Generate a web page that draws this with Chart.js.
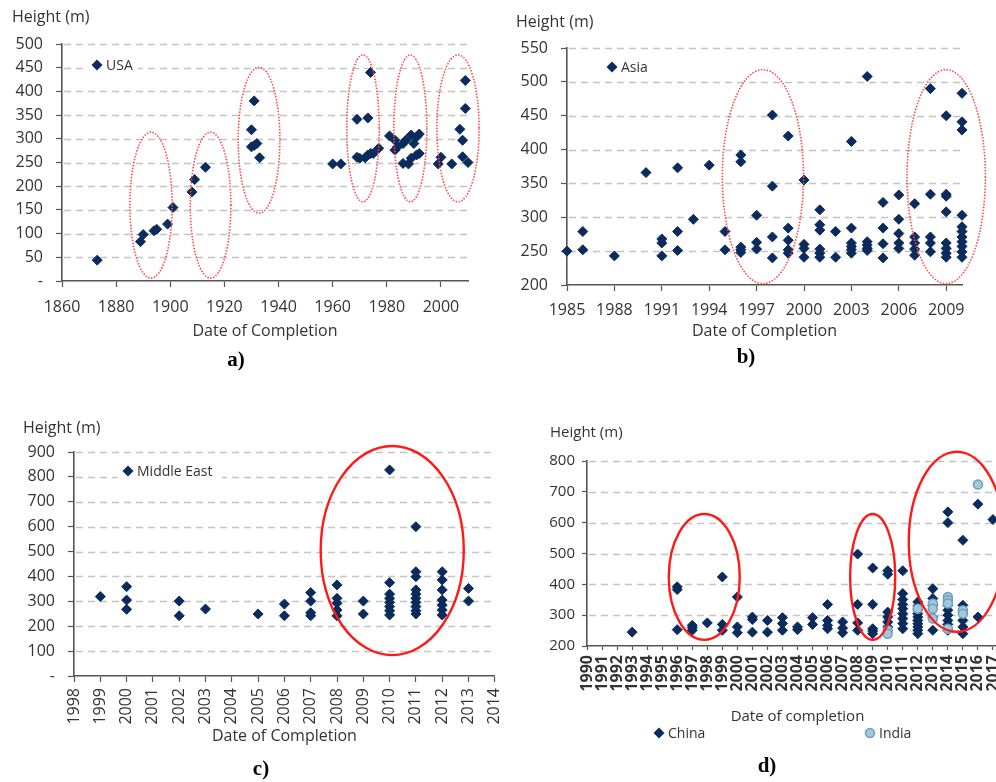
<!DOCTYPE html>
<html>
<head>
<meta charset="utf-8">
<script src="https://cdn.jsdelivr.net/npm/chart.js@4.4.1/dist/chart.umd.min.js"></script>
<style>
  body { margin: 0; width: 996px; height: 782px; overflow: hidden; background: #fff; position: relative; }
  canvas { position: absolute; }
  .cap { position: absolute; font: bold 21px "Liberation Serif", serif; color: #000; transform: translate(-50%, -50%); }
</style>
</head>
<body>
<canvas id="ca" width="490" height="350" style="left:0;top:0"></canvas>
<canvas id="cb" width="506" height="350" style="left:490px;top:0"></canvas>
<canvas id="cc" width="520" height="392" style="left:0;top:390px"></canvas>
<canvas id="cd" width="520" height="382" style="left:520px;top:400px"></canvas>
<div class="cap" style="left:236px;top:359px">a)</div>
<div class="cap" style="left:746px;top:356px">b)</div>
<div class="cap" style="left:261px;top:768px">c)</div>
<div class="cap" style="left:767px;top:765px">d)</div>
<script>
// a) USA
const usaYears = [
  1873,
  1889, 1890, 1894, 1895, 1899, 1901,
  1908, 1909, 1913,
  1930, 1930, 1931, 1931, 1932, 1933,
  1960, 1963,
  1969, 1969, 1970, 1972, 1973, 1973, 1974, 1974, 1975, 1977,
  1981, 1983, 1983, 1984, 1986, 1986, 1987, 1988, 1989, 1989, 1990, 1991, 1991, 1992, 1992,
  1999, 2000, 2004, 2007, 2008, 2008, 2009, 2009, 2010
];
const usaHeights = [
  44,
  83, 98, 106, 109, 120, 155,
  188, 214, 240,
  319, 283, 380, 286, 290, 260,
  247, 247,
  341, 261, 259, 260, 344, 266, 440, 269, 269, 280,
  306, 297, 276, 283, 290, 248, 297, 247, 308, 259, 290, 304, 266, 310, 269,
  247, 261, 247, 320, 297, 262, 364, 423, 250
];
const usaYearTicks = [1860, 1880, 1900, 1920, 1940, 1960, 1980, 2000];
const usaHeightTicks = [0, 50, 100, 150, 200, 250, 300, 350, 400, 450, 500];

// b) Asia
const asiaYears = [
  1985, 1986, 1986, 1988, 1990, 1991, 1991, 1991, 1992, 1992, 1992, 1993, 1994, 1995, 1995,
  1996, 1996, 1996, 1996, 1996,
  1997, 1997, 1997,
  1998, 1998, 1998, 1998,
  1999, 1999, 1999, 1999, 1999,
  2000, 2000, 2000, 2000,
  2001, 2001, 2001, 2001, 2001, 2001,
  2002, 2002,
  2003, 2003, 2003, 2003, 2003, 2003,
  2004, 2004, 2004, 2004, 2004,
  2005, 2005, 2005, 2005,
  2006, 2006, 2006, 2006, 2006,
  2007, 2007, 2007, 2007, 2007,
  2008, 2008, 2008, 2008, 2008,
  2009, 2009, 2009, 2009, 2009, 2009, 2009, 2009,
  2010, 2010, 2010, 2010, 2010, 2010, 2010, 2010, 2010, 2010, 2010
];
const asiaHeights = [
  250, 279, 252, 243, 366, 268, 262, 243, 373, 279, 251, 297, 377, 279, 252,
  392, 382, 256, 252, 248,
  303, 263, 253,
  451, 346, 271, 240,
  420, 284, 266, 252, 247,
  355, 260, 254, 241,
  311, 289, 281, 253, 247, 241,
  279, 241,
  412, 284, 262, 257, 252, 247,
  508, 264, 259, 254, 251,
  322, 284, 261, 240,
  333, 297, 276, 262, 254,
  320, 271, 262, 253, 244,
  490, 334, 271, 262, 249,
  450, 334, 331, 308, 262, 254, 247, 241,
  483, 441, 429, 303, 286, 279, 271, 264, 257, 249, 241
];
const asiaYearTicks = [1985, 1988, 1991, 1994, 1997, 2000, 2003, 2006, 2009];
const asiaHeightTicks = [200, 250, 300, 350, 400, 450, 500, 550];

// c) Middle East
const meYears = [
  1999, 2000, 2000, 2000, 2002, 2002, 2003, 2005, 2006, 2006,
  2007, 2007, 2007, 2007,
  2008, 2008, 2008, 2008, 2008,
  2009, 2009,
  2010, 2010, 2010, 2010, 2010, 2010, 2010, 2010,
  2011, 2011, 2011, 2011, 2011, 2011, 2011, 2011, 2011, 2011,
  2012, 2012, 2012, 2012, 2012, 2012, 2012,
  2013, 2013
];
const meHeights = [
  319, 359, 305, 268, 301, 242, 269, 249, 289, 242,
  335, 301, 254, 242,
  366, 312, 292, 265, 242,
  301, 249,
  828, 375, 329, 312, 296, 279, 262, 245,
  600, 419, 399, 346, 329, 312, 296, 279, 262, 249,
  419, 386, 346, 305, 285, 265, 245,
  352, 301
];
const meYearTicks = [1998, 1999, 2000, 2001, 2002, 2003, 2004, 2005, 2006, 2007, 2008, 2009, 2010, 2011, 2012, 2013, 2014];
const meHeightTicks = [0, 100, 200, 300, 400, 500, 600, 700, 800, 900];

// d) China and India
const chinaYears = [
  1993, 1996, 1996, 1996, 1997, 1997, 1997, 1998, 1999, 1999, 1999,
  2000, 2000, 2000, 2001, 2001, 2001, 2002, 2002, 2003, 2003, 2003,
  2004, 2004, 2005, 2005, 2006, 2006, 2006, 2006, 2007, 2007, 2007,
  2008, 2008, 2008, 2008, 2009, 2009, 2009, 2009, 2009,
  2010, 2010, 2010, 2010, 2010, 2010,
  2011, 2011, 2011, 2011, 2011, 2011, 2011, 2011, 2011,
  2012, 2012, 2012, 2012, 2012, 2012, 2012, 2012, 2012, 2012,
  2013, 2013, 2013, 2013, 2013,
  2014, 2014, 2014, 2014, 2014, 2014, 2014, 2014,
  2015, 2015, 2015, 2015, 2015, 2015,
  2016, 2016, 2017
];
const chinaHeights = [
  245, 392, 383, 253, 267, 260, 251, 275, 424, 270, 251,
  359, 262, 243, 294, 286, 245, 283, 245, 292, 273, 251,
  262, 253, 292, 270, 335, 283, 267, 256, 278, 258, 243,
  498, 335, 275, 251, 453, 335, 256, 249, 240,
  444, 433, 310, 294, 278, 262,
  444, 370, 351, 335, 321, 305, 289, 273, 256,
  343, 330, 317, 305, 294, 283, 272, 262, 251, 240,
  386, 354, 332, 294, 251,
  635, 600, 332, 316, 300, 283, 270, 251,
  543, 332, 310, 283, 262, 240,
  660, 294, 610
];
const indiaYears = [2010, 2010, 2012, 2013, 2013, 2013, 2014, 2014, 2014, 2014, 2015, 2015, 2016];
const indiaHeights = [251, 240, 321, 338, 321, 289, 359, 348, 338, 256, 316, 305, 724];
const chinaYearTicks = [1990, 1991, 1992, 1993, 1994, 1995, 1996, 1997, 1998, 1999, 2000, 2001, 2002, 2003,
  2004, 2005, 2006, 2007, 2008, 2009, 2010, 2011, 2012, 2013, 2014, 2015, 2016, 2017];
const chinaHeightTicks = [200, 300, 400, 500, 600, 700, 800];

// highlighted groups: [centre year, centre height, half width (years), half height (m)]
const usaRings = [[1892.9, 160, 7.8, 154], [1914.9, 160, 7.5, 154], [1932.8, 297, 7.7, 154],
  [1971.2, 322, 6, 155], [1988.7, 322, 6.1, 155], [2006.3, 322, 7.8, 155]];
const asiaRings = [[1997.4, 360, 2.57, 158], [2009.0, 360, 2.48, 158]];
const meRings = [[2010.1, 504, 2.72, 420]];
const chinaRings = [[1997.8, 424, 2.36, 204], [2009.0, 424, 1.5, 204], [2014.6, 538, 3.2, 292]];

const NAVY = '#0b2b5c';
const TXT = '#333333';
const AXIS = '#555555';

function pts(xs, ys) {
  return xs.map((x, i) => ({ x: x, y: ys[i] }));
}

function diamond(ctx, x, y, r) {
  ctx.beginPath();
  ctx.moveTo(x - r, y); ctx.lineTo(x, y - r); ctx.lineTo(x + r, y); ctx.lineTo(x, y + r);
  ctx.closePath();
  ctx.fillStyle = NAVY;
  ctx.fill();
}

function deco(o) {
  return {
    id: 'deco',
    beforeDatasetsDraw(chart) {
      const ctx = chart.ctx, a = chart.chartArea, ys = chart.scales.y;
      ctx.save();
      // dashed horizontal gridlines at the height ticks
      ctx.strokeStyle = '#c4c4c4';
      ctx.lineWidth = 1.3;
      ctx.setLineDash([7, 5]);
      ys.ticks.forEach(t => {
        if (t.value === ys.min) return;
        const y = Math.round(ys.getPixelForValue(t.value)) + 0.5;
        ctx.beginPath();
        ctx.moveTo(a.left + 2, y);
        ctx.lineTo(a.right, y);
        ctx.stroke();
      });
      ctx.setLineDash([]);
      ctx.textBaseline = 'middle';
      ctx.textAlign = 'left';
      ctx.fillStyle = TXT;
      ctx.font = o.titleSize + 'px "Open Sans"';
      ctx.fillText('Height (m)', o.title[0], o.title[1]);
      ctx.font = '14px "Open Sans"';
      o.legend.forEach(l => {
        if (l.box) {
          ctx.fillStyle = '#fff';
          ctx.fillRect(l.box[0], l.box[1], l.box[2], l.box[3]);
        }
        if (l.style === 'circle') {
          ctx.beginPath();
          ctx.arc(l.x, l.y, 4.5, 0, Math.PI * 2);
          ctx.fillStyle = '#a3c8dc';
          ctx.fill();
          ctx.lineWidth = 1.5;
          ctx.strokeStyle = '#6e9fbd';
          ctx.stroke();
        } else {
          diamond(ctx, l.x, l.y, 5.5);
        }
        ctx.fillStyle = TXT;
        ctx.fillText(l.text, l.x + 9, l.y + 1);
      });
      ctx.restore();
    },
    afterDatasetsDraw(chart) {
      const ctx = chart.ctx, xs = chart.scales.x, ys = chart.scales.y;
      ctx.save();
      ctx.strokeStyle = o.ring.color;
      ctx.lineWidth = o.ring.width;
      ctx.setLineDash(o.ring.dash);
      o.rings.forEach(r => {
        const cx = xs.getPixelForValue(r[0]), cy = ys.getPixelForValue(r[1]);
        const rx = Math.abs(xs.getPixelForValue(r[0] + r[2]) - cx);
        const ry = Math.abs(ys.getPixelForValue(r[1] + r[3]) - cy);
        ctx.beginPath();
        ctx.ellipse(cx, cy, rx, ry, 0, 0, Math.PI * 2);
        ctx.stroke();
      });
      ctx.restore();
    }
  };
}

function panel(id, o) {
  const yMin = o.yTicks[0], yMax = o.yTicks[o.yTicks.length - 1];
  new Chart(document.getElementById(id), {
    type: 'scatter',
    data: { datasets: o.sets },
    options: {
      responsive: false,
      animation: false,
      devicePixelRatio: 1,
      events: [],
      layout: { padding: o.pad },
      plugins: { legend: { display: false }, tooltip: { enabled: false } },
      scales: {
        x: {
          type: 'linear',
          min: o.xMin,
          max: o.xMax,
          afterFit: s => { s.height = o.xH; },
          afterBuildTicks: s => { s.ticks = o.xTicks.map(v => ({ value: v })); },
          border: { color: AXIS, width: 1.6 },
          grid: { drawOnChartArea: false, tickLength: o.xTickLen, tickColor: AXIS, tickWidth: 1.2 },
          ticks: {
            autoSkip: false,
            maxRotation: o.rot,
            minRotation: o.rot,
            padding: o.xPad,
            color: TXT,
            font: o.xFont,
            callback: v => String(v)
          },
          title: {
            display: true,
            text: o.xTitle,
            color: TXT,
            padding: 0,
            font: { family: 'Open Sans', size: o.titleSize }
          }
        },
        y: {
          min: yMin,
          max: yMax,
          afterFit: s => { s.width = o.yW; },
          afterBuildTicks: s => { s.ticks = o.yTicks.map(v => ({ value: v })); },
          border: { color: AXIS, width: 1.6 },
          grid: { drawOnChartArea: false, tickLength: o.yTickLen, tickColor: AXIS, tickWidth: 1.2 },
          ticks: {
            padding: o.yPad,
            color: TXT,
            font: { family: 'Open Sans', size: o.titleSize },
            callback: v => v === 0 ? '-' : String(v)
          }
        }
      }
    },
    plugins: [deco(o)]
  });
}

const diamondSet = (data) => ({
  data: data, pointStyle: 'rectRot', pointRadius: 5, borderWidth: 1,
  backgroundColor: NAVY, borderColor: NAVY, clip: false, order: 1
});
const dotted = { color: '#ff4a4a', width: 1.6, dash: [1.5, 1.5] };
const solid = { color: '#ff1a1a', width: 2.4, dash: [] };

panel('ca', {
  sets: [diamondSet(pts(usaYears, usaHeights))],
  xMin: 1860, xMax: 2010, xTicks: usaYearTicks, yTicks: usaHeightTicks,
  pad: { left: 12, top: 44, right: 22, bottom: 9 }, yW: 50, xH: 60,
  xTickLen: 6, yTickLen: 6, xPad: 11, yPad: 13, rot: 0,
  xFont: { family: 'Open Sans', size: 16 }, titleSize: 16,
  xTitle: 'Date of Completion',
  title: [12, 17],
  legend: [{ x: 97, y: 65, text: 'USA', box: [88, 56, 50, 18] }],
  rings: usaRings, ring: dotted
});

panel('cb', {
  sets: [diamondSet(pts(asiaYears, asiaHeights))],
  xMin: 1985, xMax: 2010, xTicks: asiaYearTicks, yTicks: asiaHeightTicks,
  pad: { left: 17, top: 48, right: 34, bottom: 9 }, yW: 60, xH: 56,
  xTickLen: 6, yTickLen: 6, xPad: 10, yPad: 13, rot: 0,
  xFont: { family: 'Open Sans', size: 16 }, titleSize: 16,
  xTitle: 'Date of Completion',
  title: [26, 22],
  legend: [{ x: 122, y: 67, text: 'Asia' }],
  rings: asiaRings, ring: dotted
});

panel('cc', {
  sets: [diamondSet(pts(meYears, meHeights))],
  xMin: 1998, xMax: 2014, xTicks: meYearTicks, yTicks: meHeightTicks,
  pad: { left: 14, top: 62, right: 10, bottom: 36 }, yW: 60, xH: 70,
  xTickLen: 6, yTickLen: 6, xPad: 6, yPad: 13, rot: 90,
  xFont: { family: 'Open Sans', size: 16 }, titleSize: 16,
  xTitle: 'Date of Completion',
  title: [23, 38],
  legend: [{ x: 128, y: 81, text: 'Middle East', box: [118, 72, 104, 18] }],
  rings: meRings, ring: solid
});

panel('cd', {
  sets: [
    { data: pts(indiaYears, indiaHeights), pointStyle: 'circle', pointRadius: 4.5, borderWidth: 1.5,
      backgroundColor: '#a3c8dc', borderColor: '#6e9fbd', clip: false, order: 0 },
    diamondSet(pts(chinaYears, chinaHeights))
  ],
  xMin: 1990, xMax: 2018, xTicks: chinaYearTicks, yTicks: chinaHeightTicks,
  pad: { left: 12, top: 61, right: 32, bottom: 56 }, yW: 55, xH: 80,
  xTickLen: 4, yTickLen: 5, xPad: 5, yPad: 7, rot: 90,
  xFont: { family: 'Open Sans', size: 16, weight: 'bold' }, titleSize: 15,
  xTitle: 'Date of completion',
  title: [30, 33],
  legend: [{ x: 139, y: 333, text: 'China' }, { x: 350, y: 333, text: 'India', style: 'circle' }],
  rings: chinaRings, ring: solid
});
</script>
</body>
</html>
